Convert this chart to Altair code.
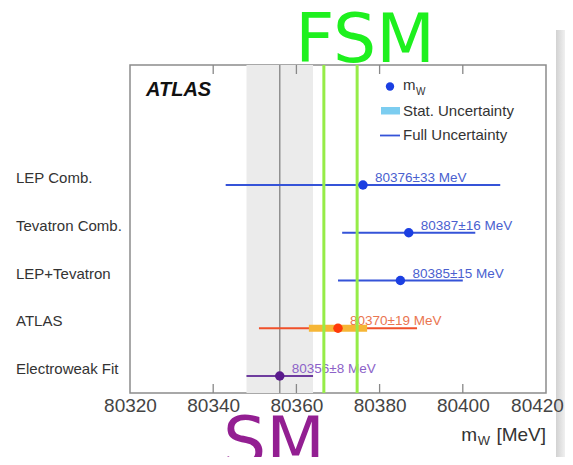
import altair as alt
import pandas as pd

# ---- data ----
names = ["LEP Comb.", "Tevatron Comb.", "LEP+Tevatron", "ATLAS", "Electroweak Fit"]
values = [80376, 80387, 80385, 80370, 80356]
full_err = [33, 16, 15, 19, 8]
stat_names = ["ATLAS"]
stat_values = [80370]
stat_err = [7]
line_colors = ["#3553d8", "#3553d8", "#3553d8", "#f0502a", "#6e3c9e"]
point_colors = ["#1b3fe2", "#1b3fe2", "#1b3fe2", "#ff3a0a", "#5a1a8c"]
text_colors = ["#4a5fcf", "#4a5fcf", "#4a5fcf", "#ea7550", "#8c62c8"]
ticks = [80320, 80340, 80360, 80380, 80400, 80420]
inner_ticks = [80340, 80360, 80380, 80400]
sm_band = [80348, 80364]
sm_value = [80356]
fsm_lines = [80366.6, 80374.6]

W, H = 416, 328
FONT = "Liberation Sans"

df = pd.DataFrame({
    "name": names,
    "v": values,
    "lo": [v - e for v, e in zip(values, full_err)],
    "hi": [v + e for v, e in zip(values, full_err)],
    "lc": line_colors,
    "pc": point_colors,
    "tc": text_colors,
    "label": [f"{v}\u00b1{e} MeV" for v, e in zip(values, full_err)],
})
df_stat = pd.DataFrame({
    "name": stat_names,
    "lo": [v - e for v, e in zip(stat_values, stat_err)],
    "hi": [v + e for v, e in zip(stat_values, stat_err)],
})
df_band = pd.DataFrame({"lo": [sm_band[0]], "hi": [sm_band[1]]})
df_smline = pd.DataFrame({"x": sm_value})
df_fsm = pd.DataFrame({"x": fsm_lines})
df_ticks = pd.DataFrame({"x": inner_ticks})

xscale = alt.Scale(domain=[ticks[0], ticks[-1]], nice=False, zero=False)
xaxis = alt.Axis(values=ticks, format="d", labelFontSize=19, labelColor="#444",
                 labelFont=FONT, tickSize=0, domain=False, grid=False,
                 labelPadding=3, labelFlush=False, title=None, zindex=2,
                 labelOffset={"condition": {"test": f"datum.value == {ticks[-1]}",
                                            "value": -9}, "value": 0})
yscale = alt.Scale(type="point", range=[120, 311], padding=0)
Y = alt.Y("name:N", sort=names, scale=yscale, axis=None)


def X(field):
    return alt.X(field, type="quantitative", scale=xscale, axis=xaxis, title=None)


one = pd.DataFrame({"a": [0]})

shadow = alt.Chart(one).mark_rect(
    fill=alt.Gradient(gradient="linear",
                      stops=[alt.GradientStop(color="#d2d2d2", offset=0),
                             alt.GradientStop(color="#f3f3f3", offset=1)],
                      x1=0, x2=1, y1=0, y2=0)).encode(
    x=alt.value(426), x2=alt.value(436), y=alt.value(-35), y2=alt.value(400))

band = alt.Chart(df_band).mark_rect(color="#ebebeb").encode(
    x=X("lo"), x2="hi", y=alt.value(0), y2=alt.value(H))
smline = alt.Chart(df_smline).mark_rule(color="#909090", strokeWidth=1.5).encode(
    x=X("x"), y=alt.value(0), y2=alt.value(H))
tick_top = alt.Chart(df_ticks).mark_rule(color="#888", strokeWidth=1.3).encode(
    x=X("x"), y=alt.value(0), y2=alt.value(9))
tick_bot = alt.Chart(df_ticks).mark_rule(color="#888", strokeWidth=1.3).encode(
    x=X("x"), y=alt.value(H - 9), y2=alt.value(H))

full = alt.Chart(df).mark_rule(strokeWidth=2).encode(
    x=X("lo"), x2="hi", y=Y, color=alt.Color("lc:N", scale=None))
stat = alt.Chart(df_stat).mark_rule(strokeWidth=7, color="#f6b636").encode(
    x=X("lo"), x2="hi", y=Y)
fsm = alt.Chart(df_fsm).mark_rule(color="#96ec48", strokeWidth=3).encode(
    x=X("x"), y=alt.value(0), y2=alt.value(H))
points = alt.Chart(df).mark_circle(size=90, opacity=1).encode(
    x=X("v"), y=Y, color=alt.Color("pc:N", scale=None))
vlabels = alt.Chart(df).mark_text(align="left", baseline="middle", dx=12, dy=-7,
                                  fontSize=13.5, font=FONT).encode(
    x=X("v"), y=Y, text="label:N", color=alt.Color("tc:N", scale=None))
rlabels = alt.Chart(df).mark_text(align="left", baseline="middle", dy=-7,
                                  fontSize=15, font=FONT, color="#333").encode(
    x=alt.value(-114), y=Y, text="name:N")


def txt(s, x, y, **kw):
    return alt.Chart(one).mark_text(text=s, **kw).encode(x=alt.value(x), y=alt.value(y))


atlas = txt("ATLAS", 16, 25, align="left", baseline="middle", fontSize=20,
            fontWeight="bold", fontStyle="italic", font=FONT, color="#111")

leg_dot = alt.Chart(one).mark_circle(size=70, opacity=1, color="#1b3fe2").encode(
    x=alt.value(260), y=alt.value(21.5))
leg_stat = alt.Chart(one).mark_rect(color="#7ccdf0").encode(
    x=alt.value(251), x2=alt.value(270), y=alt.value(42), y2=alt.value(49.5))
leg_full = alt.Chart(one).mark_rule(color="#3553d8", strokeWidth=1.8).encode(
    x=alt.value(250), x2=alt.value(270), y=alt.value(70.5))
lt = dict(align="left", baseline="middle", fontSize=15, font=FONT, color="#333")
leg_t1 = txt("m", 273, 20, **lt)
leg_t1b = txt("W", 286, 26.5, align="left", baseline="middle", fontSize=10,
              font=FONT, color="#333")
leg_t2 = txt("Stat. Uncertainty", 273, 45.5, **lt)
leg_t3 = txt("Full Uncertainty", 273, 70, **lt)

at = dict(baseline="alphabetic", font=FONT, color="#333")
ax_t1 = txt("[MeV]", W, 376, align="right", fontSize=19, **at)
ax_t2 = txt("W", W - 56, 380, align="right", fontSize=13, **at)
ax_t3 = txt("m", W - 69, 376, align="right", fontSize=19, **at)

big_fsm = txt("FSM", 235, -3, align="center", baseline="alphabetic", fontSize=68,
              font="DejaVu Sans", color="#1ef01e")
big_sm = txt("SM", 144, 400, align="center", baseline="alphabetic", fontSize=68,
             font="DejaVu Sans", color="#931f92")

chart = alt.layer(
    shadow, band, smline, tick_top, tick_bot, full, stat, vlabels, fsm, points, rlabels,
    atlas, leg_dot, leg_stat, leg_full, leg_t1, leg_t1b, leg_t2, leg_t3,
    ax_t1, ax_t2, ax_t3, big_fsm, big_sm,
).properties(
    width=W, height=H,
    autosize=alt.AutoSizeParams(type="none"),
    padding={"left": 122, "top": 57, "right": 19, "bottom": 64},
    background="white",
).configure_view(stroke="#8c8c8c", strokeWidth=1.5)

chart.save("out.html", embed_options={"renderer": "svg", "actions": False})
